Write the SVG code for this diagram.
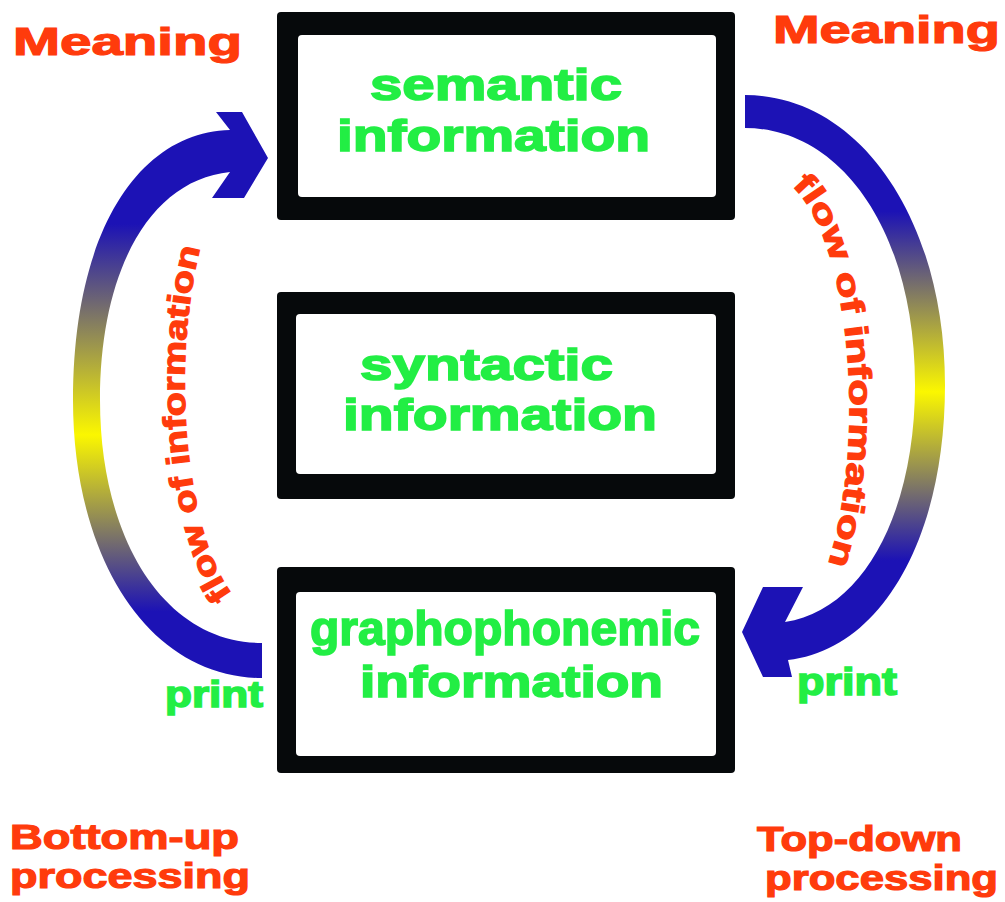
<svg xmlns="http://www.w3.org/2000/svg" width="1005" height="902" viewBox="0 0 1005 902">
<style>
.frame{fill:#06090b}
.inner{fill:#ffffff}
.g{fill:#22ee44;stroke:#22ee44;stroke-width:1.6;font-family:"Liberation Sans",Arial,sans-serif;font-weight:bold}
.r{fill:#ff3b0c;stroke:#ff3b0c;stroke-width:1.2;font-family:"Liberation Sans",Arial,sans-serif;font-weight:bold}
</style>
<defs>
<linearGradient id="gl" gradientUnits="userSpaceOnUse" x1="0" y1="110" x2="0" y2="680">
<stop offset="0" stop-color="#1c12b5"/>
<stop offset="0.2" stop-color="#1c12b5"/>
<stop offset="0.57" stop-color="#fbf700"/>
<stop offset="0.88" stop-color="#1c12b5"/>
<stop offset="1" stop-color="#1c12b5"/>
</linearGradient>
<linearGradient id="gr" gradientUnits="userSpaceOnUse" x1="0" y1="95" x2="0" y2="677">
<stop offset="0" stop-color="#1c12b5"/>
<stop offset="0.2" stop-color="#1c12b5"/>
<stop offset="0.51" stop-color="#fbf700"/>
<stop offset="0.8" stop-color="#1c12b5"/>
<stop offset="1" stop-color="#1c12b5"/>
</linearGradient>
<path id="pl" d="M 232,594 A 82 232 0 0 1 206,228"/>
<path id="pr" d="M 792,186 A 82 232 0 0 1 820,586"/>
</defs>
<rect width="1005" height="902" fill="#ffffff"/>

<g id="connectors">
<path id="arrow-bottom-up" fill="url(#gl)" d="M 262,678 C 150,678 73,560 73,400 C 73,230 140,132 230,130 L 216,112 L 242,112 L 268,158 L 244,198 L 212,198 L 230,172 C 150,180 100,270 100,400 C 100,540 165,643 262,643 Z"/>
<path id="arrow-top-down" fill="url(#gr)" d="M 745,95 C 860,95 945,220 945,385 C 945,540 880,650 788,660 L 792,677 L 763,677 L 742,632 L 763,587 L 803,587 L 785,622 C 865,610 915,510 915,385 C 915,230 840,128 745,128 Z"/>
<text class="r" font-size="32"><textPath href="#pl" textLength="355" lengthAdjust="spacingAndGlyphs">flow of information</textPath></text>
<text class="r" font-size="32"><textPath href="#pr" textLength="392" lengthAdjust="spacingAndGlyphs">flow of information</textPath></text>
<text class="g" font-size="37" x="165" y="707" textLength="98" lengthAdjust="spacingAndGlyphs">print</text>
<text class="g" font-size="38" x="797" y="695" textLength="100" lengthAdjust="spacingAndGlyphs">print</text>
</g>

<g id="semantic">
<rect class="frame" x="277" y="12" width="458" height="208" rx="4"/>
<rect class="inner" x="298" y="35" width="418" height="162" rx="4"/>
<text class="g" font-size="44" x="370" y="100" textLength="252" lengthAdjust="spacingAndGlyphs">semantic</text>
<text class="g" font-size="44" x="337" y="151" textLength="313" lengthAdjust="spacingAndGlyphs">information</text>
</g>

<g id="syntactic">
<rect class="frame" x="277" y="292" width="458" height="207" rx="4"/>
<rect class="inner" x="296" y="314" width="420" height="160" rx="4"/>
<text class="g" font-size="44" x="360" y="380" textLength="253" lengthAdjust="spacingAndGlyphs">syntactic</text>
<text class="g" font-size="44" x="343" y="430" textLength="314" lengthAdjust="spacingAndGlyphs">information</text>
</g>

<g id="graphophonemic">
<rect class="frame" x="277" y="567" width="458" height="206" rx="4"/>
<rect class="inner" x="296" y="592" width="420" height="164" rx="4"/>
<text class="g" font-size="48" x="310" y="645" textLength="390" lengthAdjust="spacingAndGlyphs" stroke-width="0.8">graphophonemic</text>
<text class="g" font-size="44" x="360" y="697" textLength="303" lengthAdjust="spacingAndGlyphs">information</text>
</g>

<g id="meaning-left">
<text class="r" font-size="39" x="13" y="55" textLength="229" lengthAdjust="spacingAndGlyphs">Meaning</text>
</g>
<g id="meaning-right">
<text class="r" font-size="39" x="773" y="43" textLength="227" lengthAdjust="spacingAndGlyphs">Meaning</text>
</g>
<g id="bottom-up">
<text class="r" font-size="35" x="10" y="849" textLength="229" lengthAdjust="spacingAndGlyphs">Bottom-up</text>
<text class="r" font-size="35" x="10" y="888" textLength="240" lengthAdjust="spacingAndGlyphs">processing</text>
</g>
<g id="top-down">
<text class="r" font-size="35" x="757" y="851" textLength="205" lengthAdjust="spacingAndGlyphs">Top-down</text>
<text class="r" font-size="35" x="765" y="890" textLength="233" lengthAdjust="spacingAndGlyphs">processing</text>
</g>
</svg>
